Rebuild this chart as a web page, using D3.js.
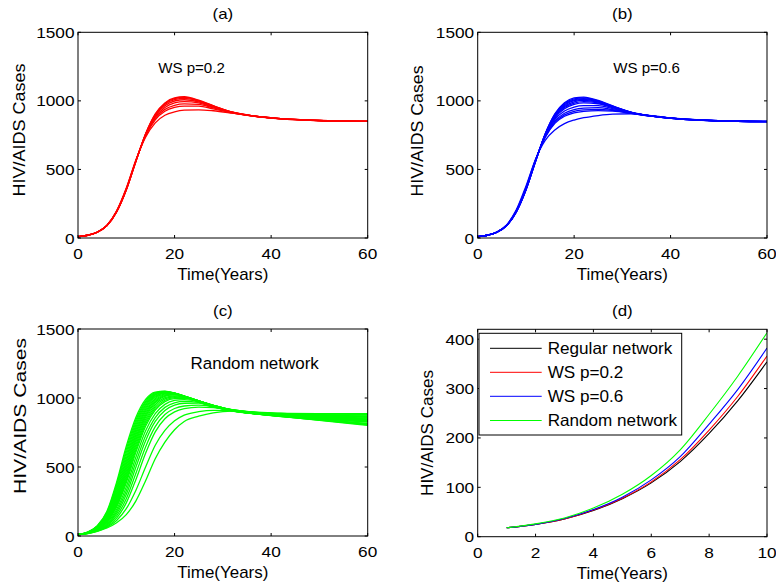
<!DOCTYPE html>
<html>
<head>
<meta charset="utf-8">
<script src="https://cdnjs.cloudflare.com/ajax/libs/d3/7.8.5/d3.min.js"></script>
<style>
  html, body { margin: 0; padding: 0; background: #fff; }
  svg { display: block; }
  text { font-family: "Liberation Sans", Arial, Helvetica, sans-serif; fill: #000; }
</style>
</head>
<body>
<svg id="chart" width="776" height="587"></svg>
<script>
// ---------- data ----------
const timesABC = [0, 2, 4, 6, 8, 10, 12, 14, 16, 18, 20, 22, 25, 28, 32, 36, 42, 50, 60];

const wsP02Runs = [
  [10, 20, 42, 90, 190, 350, 560, 760, 905, 985, 1022, 1030, 1005, 965, 918, 892, 870, 857, 852],
  [10, 20, 42, 90, 190, 351, 560, 758, 900, 980, 1016, 1025, 1002, 963, 918, 892, 870, 857, 852],
  [10, 20, 42, 90, 191, 352, 561, 757, 897, 974, 1009, 1018, 998, 961, 917, 892, 870, 857, 851],
  [10, 20, 42, 91, 192, 354, 562, 755, 890, 964, 999, 1008, 993, 958, 916, 891, 870, 857, 851],
  [10, 20, 42, 91, 193, 355, 563, 752, 882, 952, 985, 995, 985, 954, 915, 891, 870, 857, 851],
  [10, 20, 43, 92, 194, 357, 564, 748, 872, 938, 968, 978, 974, 949, 913, 891, 869, 856, 850],
  [10, 20, 43, 92, 195, 359, 566, 744, 862, 924, 952, 962, 962, 942, 912, 890, 869, 856, 850],
  [10, 20, 43, 93, 198, 364, 570, 735, 840, 895, 920, 932, 935, 928, 910, 890, 869, 856, 850]
];

const wsP06Runs = [
  [10, 20, 42, 90, 188, 348, 558, 760, 906, 986, 1022, 1028, 1003, 963, 916, 890, 868, 855, 850],
  [10, 20, 42, 90, 189, 349, 559, 759, 902, 980, 1015, 1022, 1000, 961, 915, 890, 868, 855, 850],
  [10, 20, 42, 90, 190, 351, 560, 757, 897, 973, 1008, 1016, 997, 959, 915, 890, 868, 855, 850],
  [10, 20, 42, 91, 191, 352, 561, 755, 892, 966, 1001, 1010, 994, 958, 914, 890, 868, 855, 850],
  [10, 20, 42, 91, 192, 354, 562, 753, 887, 959, 993, 1003, 990, 956, 914, 890, 868, 855, 849],
  [10, 20, 42, 91, 193, 355, 563, 751, 881, 951, 984, 995, 985, 953, 913, 890, 868, 855, 849],
  [10, 20, 43, 92, 194, 357, 564, 749, 875, 942, 974, 985, 979, 950, 912, 889, 868, 855, 849],
  [10, 20, 43, 92, 196, 360, 566, 745, 864, 926, 955, 965, 965, 943, 911, 889, 867, 854, 849],
  [10, 20, 43, 93, 197, 362, 568, 740, 852, 910, 937, 947, 950, 936, 910, 889, 867, 854, 848],
  [10, 20, 43, 93, 198, 364, 570, 736, 843, 898, 924, 934, 938, 930, 909, 889, 867, 854, 848],
  [10, 20, 43, 93, 199, 366, 571, 733, 836, 888, 913, 924, 929, 925, 908, 888, 867, 854, 848],
  [10, 20, 44, 96, 205, 378, 575, 712, 788, 834, 860, 877, 893, 903, 906, 892, 870, 856, 850]
];

const randomRuns = [
  [10, 28, 75, 180, 390, 650, 860, 990, 1043, 1050, 1035, 1010, 970, 935, 905, 887, 866, 838, 802],
  [10, 28, 72, 173, 374, 628, 842, 978, 1038, 1048, 1035, 1011, 972, 937, 906, 888, 867, 840, 805],
  [10, 27, 70, 166, 358, 606, 824, 966, 1032, 1046, 1035, 1012, 973, 938, 906, 888, 867, 842, 808],
  [10, 26, 67, 159, 342, 584, 806, 954, 1026, 1044, 1035, 1013, 975, 940, 907, 889, 868, 844, 812],
  [10, 26, 65, 152, 326, 562, 788, 942, 1021, 1042, 1035, 1014, 976, 941, 907, 889, 869, 846, 815],
  [10, 25, 62, 146, 312, 542, 770, 929, 1013, 1038, 1034, 1014, 977, 942, 908, 889, 870, 849, 825],
  [10, 25, 60, 140, 298, 522, 752, 916, 1005, 1034, 1032, 1014, 978, 943, 908, 889, 870, 851, 828],
  [10, 24, 58, 134, 286, 504, 734, 902, 995, 1028, 1030, 1013, 979, 944, 909, 890, 871, 853, 831],
  [10, 24, 56, 129, 274, 486, 716, 888, 985, 1023, 1027, 1012, 979, 944, 909, 890, 871, 854, 833],
  [10, 23, 54, 124, 262, 468, 698, 874, 975, 1018, 1025, 1011, 980, 945, 910, 890, 872, 855, 836],
  [10, 23, 52, 118, 250, 450, 680, 860, 965, 1012, 1022, 1010, 980, 945, 910, 890, 872, 856, 838],
  [10, 22, 50, 114, 240, 434, 662, 844, 952, 1002, 1016, 1007, 980, 946, 911, 891, 873, 858, 841],
  [10, 22, 49, 110, 230, 418, 644, 828, 939, 993, 1009, 1004, 979, 946, 911, 891, 874, 859, 844],
  [10, 21, 47, 106, 220, 402, 626, 812, 926, 984, 1003, 1001, 979, 947, 912, 892, 875, 861, 847],
  [10, 21, 46, 102, 210, 386, 608, 796, 913, 974, 996, 997, 978, 947, 912, 892, 876, 862, 849],
  [10, 21, 44, 95, 192, 356, 572, 762, 886, 954, 982, 988, 975, 947, 913, 894, 878, 866, 854],
  [10, 20, 42, 88, 177, 328, 536, 726, 858, 932, 965, 975, 969, 946, 914, 895, 880, 869, 859],
  [10, 20, 40, 82, 162, 300, 500, 690, 830, 910, 948, 962, 963, 945, 915, 896, 882, 872, 864],
  [10, 19, 38, 76, 146, 270, 455, 645, 792, 880, 924, 942, 948, 937, 914, 897, 884, 875, 870],
  [10, 19, 37, 70, 130, 240, 410, 600, 755, 850, 900, 923, 934, 930, 914, 899, 886, 879, 876],
  [10, 18, 35, 64, 113, 198, 332, 500, 658, 765, 835, 876, 901, 911, 909, 899, 888, 883, 881],
  [10, 18, 34, 58, 96, 155, 255, 400, 560, 680, 770, 830, 868, 893, 905, 899, 890, 887, 886]
];

const timesD = [1, 2, 3, 4, 5, 6, 7, 8, 9, 10];
const regularEarly = [18, 25, 36, 53, 77, 109, 152, 209, 276, 354];
const ws02Early    = [18, 25, 36, 54, 78, 111, 156, 216, 285, 366];
const ws06Early    = [18, 25, 37, 55, 80, 115, 162, 228, 299, 382];
const randomEarly  = [18, 26, 38, 58, 86, 124, 176, 248, 326, 413];

const legendLabels = ["Regular network", "WS p=0.2", "WS p=0.6", "Random network"];
const ticksLong = [0, 20, 40, 60];
const ticksCases = [0, 500, 1000, 1500];
const ticksShort = [0, 2, 4, 6, 8, 10];
const ticksEarly = [0, 100, 200, 300, 400];

// ---------- drawing ----------
const svg = d3.select("#chart");

function txt(g, x, y, s, size, sx, anchor, rot) {
  return g.append("text")
    .attr("transform", `translate(${x},${y})` + (rot ? ` rotate(${rot})` : "") + ` scale(${sx},1)`)
    .attr("text-anchor", anchor || "start")
    .style("font-size", size + "px")
    .text(s);
}

let clipId = 0;
function panel(cfg) {
  const x = d3.scaleLinear().domain(cfg.xDomain).range([cfg.x0, cfg.x1]);
  const y = d3.scaleLinear().domain(cfg.yDomain).range([cfg.yBot, cfg.yTop]);
  const g = svg.append("g");
  const id = "clip" + (clipId++);
  g.append("clipPath").attr("id", id).append("rect")
    .attr("x", cfg.x0).attr("y", cfg.yTop)
    .attr("width", cfg.x1 - cfg.x0).attr("height", cfg.yBot - cfg.yTop);

  const lines = g.append("g").attr("clip-path", `url(#${id})`);
  const line = d3.line().curve(d3.curveMonotoneX);
  cfg.series.forEach(s => {
    line.x((d, i) => x(s.t[i])).y(d => y(d));
    lines.append("path")
      .attr("d", line(s.v))
      .attr("fill", "none")
      .attr("stroke", s.color)
      .attr("stroke-width", s.w || 1);
  });

  g.append("rect")
    .attr("x", cfg.x0).attr("y", cfg.yTop)
    .attr("width", cfg.x1 - cfg.x0).attr("height", cfg.yBot - cfg.yTop)
    .attr("fill", "none").attr("stroke", "#000").attr("stroke-width", 1);

  const tl = 3;
  cfg.xTicks.forEach(t => {
    const px = x(t);
    g.append("line").attr("x1", px).attr("x2", px).attr("y1", cfg.yBot).attr("y2", cfg.yBot - tl).attr("stroke", "#000");
    g.append("line").attr("x1", px).attr("x2", px).attr("y1", cfg.yTop).attr("y2", cfg.yTop + tl).attr("stroke", "#000");
    txt(g, px, cfg.yBot + 21.3, String(t), 15.4, 1.12, "middle");
  });
  cfg.yTicks.forEach(t => {
    const py = y(t);
    g.append("line").attr("x1", cfg.x0).attr("x2", cfg.x0 + tl).attr("y1", py).attr("y2", py).attr("stroke", "#000");
    g.append("line").attr("x1", cfg.x1).attr("x2", cfg.x1 - tl).attr("y1", py).attr("y2", py).attr("stroke", "#000");
    txt(g, cfg.x0 - 3.5, py + 5.5, String(t), 15.4, 1.12, "end");
  });

  const cx = (cfg.x0 + cfg.x1) / 2;
  txt(g, cx, cfg.yTop - 13.3, cfg.title, 15.4, 1.1, "middle");
  txt(g, cx, cfg.yBot + 42, "Time(Years)", 16, 1.06, "middle");
  txt(g, cfg.yLabelX, cfg.yLabelY, "HIV/AIDS Cases", cfg.yLabelSize, cfg.yLabelSx, "middle", -90);

  if (cfg.note) {
    txt(g, x(cfg.note.t), y(cfg.note.v), cfg.note.text, cfg.note.size, cfg.note.sx, "start");
  }
  return { g, x, y };
}

const runSeries = (runs, color) => runs.map(v => ({ t: timesABC, v, color, w: 1.3 }));

panel({
  x0: 78, x1: 367.7, yTop: 32.3, yBot: 238,
  xDomain: [0, 60], yDomain: [0, 1500], xTicks: ticksLong, yTicks: ticksCases,
  series: runSeries(wsP02Runs, "#ff0000"), title: "(a)",
  yLabelX: 25, yLabelY: 130, yLabelSize: 16, yLabelSx: 1.125,
  note: { t: 16.6, v: 1205, text: "WS p=0.2", size: 15.4, sx: 0.98 }
});

panel({
  x0: 477.7, x1: 767, yTop: 32.3, yBot: 238,
  xDomain: [0, 60], yDomain: [0, 1500], xTicks: ticksLong, yTicks: ticksCases,
  series: runSeries(wsP06Runs, "#0000ff"), title: "(b)",
  yLabelX: 423.3, yLabelY: 131, yLabelSize: 16, yLabelSx: 1.11,
  note: { t: 28.1, v: 1200, text: "WS p=0.6", size: 15.4, sx: 0.98 }
});

panel({
  x0: 78, x1: 367.7, yTop: 329, yBot: 536,
  xDomain: [0, 60], yDomain: [0, 1500], xTicks: ticksLong, yTicks: ticksCases,
  series: runSeries(randomRuns, "#00ff00"), title: "(c)",
  yLabelX: 26, yLabelY: 416, yLabelSize: 16.5, yLabelSx: 1.28,
  note: { t: 23.3, v: 1210, text: "Random network", size: 16.5, sx: 1.03 }
});

const dColors = ["#000000", "#ff0000", "#0000ff", "#00ff00"];
const dVals = [regularEarly, ws02Early, ws06Early, randomEarly];
const pd = panel({
  x0: 477.7, x1: 767, yTop: 329.3, yBot: 536.7,
  xDomain: [0, 10], yDomain: [0, 420], xTicks: ticksShort, yTicks: ticksEarly,
  series: dVals.map((v, i) => ({ t: timesD, v, color: dColors[i], w: 1.1 })), title: "(d)",
  yLabelX: 433.3, yLabelY: 433, yLabelSize: 16, yLabelSx: 1.065
});

// legend
const lg = pd.g.append("g");
lg.append("rect").attr("x", 479).attr("y", 333.3).attr("width", 202.7).attr("height", 101.7)
  .attr("fill", "#fff").attr("stroke", "#000").attr("stroke-width", 1);
const rowY = [348.3, 372.3, 396.3, 420.5];
legendLabels.forEach((lab, i) => {
  lg.append("line").attr("x1", 490).attr("x2", 541.7).attr("y1", rowY[i]).attr("y2", rowY[i])
    .attr("stroke", dColors[i]).attr("stroke-width", 1);
  txt(lg, 547.7, rowY[i] + 5.3, lab, 16.3, 1.05, "start");
});
</script>
</body>
</html>
